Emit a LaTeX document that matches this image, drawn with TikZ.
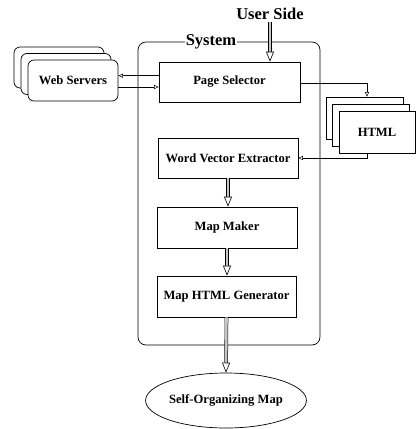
\documentclass[tikz,border=0pt]{standalone}
\usepackage{fontspec}
\setmainfont{Liberation Serif}
\usetikzlibrary{arrows.meta,shapes.geometric}
\begin{document}
\begin{tikzpicture}[x=1pt,y=-1pt,
  lbl/.style={font=\bfseries\fontsize{12.6}{14}\selectfont},
  box/.style={draw, line width=0.7pt, rectangle, inner sep=0pt, lbl},
  stackbox/.style={draw, line width=0.7pt, rectangle, fill=white, inner sep=0pt, lbl},
  thinarrow/.style={line width=0.6pt, -{Triangle[open, fill=white, length=4.5pt, width=4pt, line width=0.5pt]}},
  fatarrow/.style={draw=black, line width=0.5pt, double=gray!45, double distance=2.6pt,
     -{Triangle[open, fill=white, length=10pt, width=8pt, line width=0.6pt]}}
]
\useasboundingbox (0,0) rectangle (416,429);
% system container
\node[draw, line width=0.7pt, rounded corners=8pt, minimum width=182pt, minimum height=303pt, inner sep=0pt] (sys) at (229,193.5) {};
\node[fill=white, inner sep=1pt, font=\bfseries\fontsize{16.5}{18}\selectfont] (syslbl) at (211,42) {System};
\node[font=\bfseries\fontsize{16.5}{18}\selectfont, inner sep=1pt] (user) at (270,14) {User Side};
% web servers stack
\node[stackbox, rounded corners=6pt, minimum width=90pt, minimum height=41pt] (wsb) at (59,67.5) {};
\node[stackbox, rounded corners=6pt, minimum width=90pt, minimum height=41pt] (wsm) at (66,74) {};
\node[stackbox, rounded corners=6pt, minimum width=90pt, minimum height=41pt] (wsf) at (73,80.5) {Web Servers};
% html stack
\node[stackbox, minimum width=77pt, minimum height=42pt] (htmlb) at (364.5,118) {};
\node[stackbox, minimum width=77pt, minimum height=42pt] (htmlm) at (370.5,125) {};
\node[stackbox, minimum width=76pt, minimum height=42pt] (htmlf) at (377,132) {HTML};
% system components
\node[box, minimum width=141pt, minimum height=40pt] (ps) at (229.5,82) {Page Selector};
\node[box, minimum width=140pt, minimum height=40pt] (wve) at (228,158) {Word Vector Extractor};
\node[box, minimum width=140pt, minimum height=41pt] (mm) at (227,227.5) {Map Maker};
\node[box, minimum width=139pt, minimum height=41pt] (mhg) at (226.5,296.5) {Map HTML Generator};
\node[draw, line width=0.7pt, ellipse, minimum width=155pt, minimum height=55pt, inner sep=0pt, lbl] (som) at (226,400.5) {Self-Organizing Map};
% connectors
\draw[fatarrow] ([yshift=-1pt]user.south) -- (user.south |- ps.north);
\draw[thinarrow] ([yshift=6.3pt]ps.west) -- ([yshift=6.3pt]ps.west -| wsf.east);
\draw[thinarrow] ([yshift=-6.5pt]wsf.east) -- ([yshift=-6.5pt]wsf.east -| ps.west);
\draw[thinarrow] ([yshift=-1pt]ps.east) -| ([xshift=2.5pt]htmlb.north);
\draw[thinarrow] ([xshift=-10pt]htmlf.south) |- (wve.east);
\draw[fatarrow] (wve.south) -- (wve.south |- mm.north);
\draw[fatarrow] (mm.south) -- (mm.south |- mhg.north);
\draw[fatarrow] (mhg.south) -- (som.north);
\end{tikzpicture}
\end{document}
